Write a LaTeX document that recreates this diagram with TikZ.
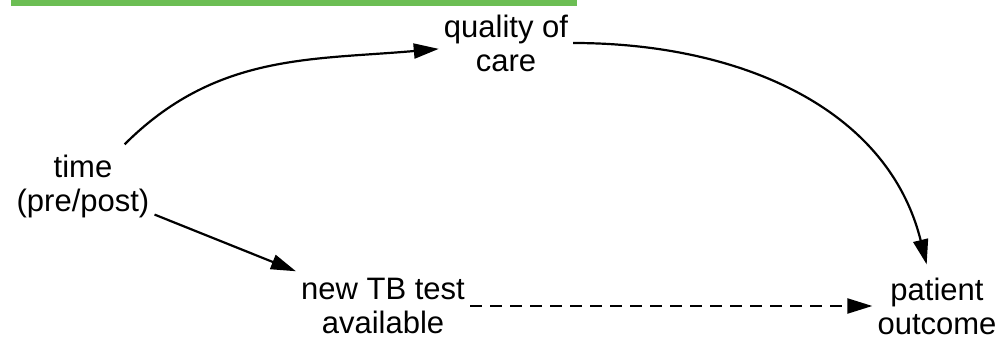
\documentclass[tikz,border=0pt]{standalone}
\usepackage{fontspec}
\setmainfont{Liberation Sans}
\usetikzlibrary{arrows.meta}
\definecolor{bargreen}{RGB}{108,190,84}

\begin{document}
\begin{tikzpicture}[x=1pt,y=1pt]
      \tikzset { factor/.style = { align=center, inner xsep=5pt, inner ysep=10pt, font=\fontsize{31}{34}\selectfont } }
      \tikzset { edge/.style = { ->, > = {Triangle[length=25pt,width=15pt]}, line width=2.2pt } }

      \useasboundingbox (0,0) rectangle (1001,340);
      \fill[bargreen] (11,334) rectangle (577,340);

      \node[factor] (quality) at (506,297) {quality of\\care};
      \node[factor] (time) at (83,154) {time\\(pre/post)};
      \node[factor] (newtest) at (383,34) {new TB test\\available};
      \node[factor, inner ysep=13pt] (patient) at (937,34) {patient\\outcome};

      \draw[edge] (time) to[out=45,in=185] (quality);
      \draw[edge] (quality) to[out=0,in=104] (patient);
      \draw[edge] (time) to (newtest);
      \draw[edge, dash pattern=on 12pt off 8pt] (newtest) to (patient);

    \end{tikzpicture}
\end{document}
